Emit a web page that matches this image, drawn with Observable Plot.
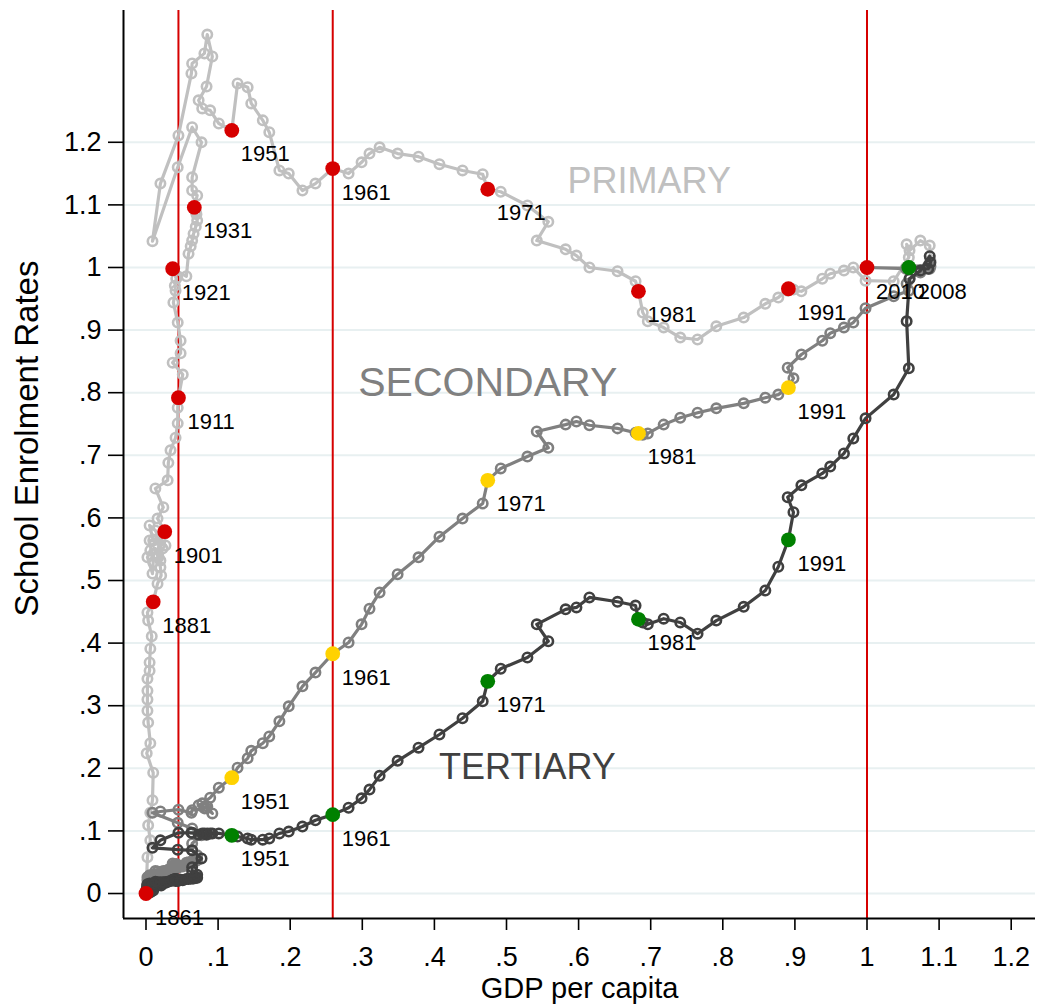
<!DOCTYPE html>
<html>
<head>
<meta charset="utf-8">
<script src="https://cdn.jsdelivr.net/npm/d3@7"></script>
<script src="https://cdn.jsdelivr.net/npm/@observablehq/plot@0.6"></script>
<style>
  body { margin: 0; background: #ffffff; }
  #chart svg { display: block; }
</style>
</head>
<body>
<div id="chart"></div>
<script>
// Yearly observations, 1861–2010: GDP per capita and school enrolment rates,
// both expressed relative to their 2010 level.
const years = d3.range(1861, 2011);

const gdp = [
  0, 0.002, 0.006, 0.003, 0.006, 0.009, 0.010, 0.001, 0.006, 0.003,
  0.002, 0.002, 0.002, 0.002, 0.005, 0.005, 0.006, 0.008, 0.003, 0.002,
  0.010, 0.016, 0.021, 0.020, 0.017, 0.013, 0.006, 0.002, 0.009, 0.010,
  0.005, 0.010, 0.005, 0.013, 0.020, 0.017, 0.020, 0.023, 0.027, 0.020,
  0.026, 0.016, 0.024, 0.013, 0.030, 0.031, 0.034, 0.041, 0.044, 0.044,
  0.045, 0.051, 0.037, 0.048, 0.048, 0.044, 0.038, 0.041, 0.040, 0.042,
  0.037, 0.056, 0.059, 0.062, 0.064, 0.066, 0.069, 0.071, 0.070, 0.069,
  0.067, 0.071, 0.064, 0.064, 0.077, 0.064, 0.044, 0.009, 0.020, 0.045,
  0.063, 0.064, 0.081, 0.085, 0.092, 0.084, 0.073, 0.078, 0.089, 0.101,
  0.119, 0.127, 0.141, 0.146, 0.162, 0.171, 0.185, 0.198, 0.217, 0.235,
  0.259, 0.281, 0.299, 0.310, 0.324, 0.349, 0.378, 0.407, 0.439, 0.467,
  0.474, 0.492, 0.529, 0.558, 0.542, 0.582, 0.597, 0.615, 0.654, 0.679,
  0.683, 0.689, 0.696, 0.718, 0.741, 0.765, 0.791, 0.829, 0.859, 0.877,
  0.891, 0.898, 0.890, 0.909, 0.938, 0.949, 0.968, 0.981, 0.998, 1.037,
  1.058, 1.055, 1.059, 1.074, 1.087, 1.088, 1.085, 1.058, 1.054, 1.000
];

const primary = [
  0, 0.058, 0.085, 0.109, 0.129, 0.149, 0.193, 0.224, 0.240, 0.273,
  0.292, 0.310, 0.324, 0.343, 0.356, 0.369, 0.391, 0.411, 0.436, 0.449,
  0.466, 0.495, 0.508, 0.521, 0.537, 0.551, 0.548, 0.537, 0.511, 0.529,
  0.564, 0.564, 0.588, 0.580, 0.564, 0.540, 0.532, 0.551, 0.556, 0.567,
  0.578, 0.599, 0.617, 0.647, 0.660, 0.688, 0.708, 0.728, 0.751, 0.776,
  0.792, 0.829, 0.848, 0.863, 0.883, 0.912, 0.944, 0.963, 0.971, 0.982,
  0.998, 0.986, 1.022, 1.034, 1.043, 1.054, 1.065, 1.075, 1.085, 1.089,
  1.096, 1.115, 1.123, 1.144, 1.200, 1.224, 1.160, 1.042, 1.134, 1.211,
  1.310, 1.326, 1.342, 1.372, 1.337, 1.289, 1.267, 1.254, 1.251, 1.230,
  1.219, 1.294, 1.288, 1.262, 1.235, 1.216, 1.155, 1.150, 1.123, 1.134,
  1.158, 1.150, 1.168, 1.182, 1.192, 1.182, 1.177, 1.165, 1.155, 1.149,
  1.125, 1.121, 1.099, 1.073, 1.043, 1.029, 1.019, 1.000, 0.994, 0.978,
  0.962, 0.928, 0.914, 0.904, 0.888, 0.885, 0.906, 0.920, 0.942, 0.952,
  0.966, 0.965, 0.963, 0.962, 0.982, 0.990, 0.995, 1.000, 0.979, 0.978,
  1.016, 1.037, 1.027, 1.043, 1.035, 1.011, 0.998, 1.000, 1.000, 1.000
];

const secondary = [
  0, 0.002, 0.003, 0.005, 0.005, 0.006, 0.008, 0.008, 0.010, 0.010,
  0.011, 0.013, 0.013, 0.014, 0.014, 0.016, 0.018, 0.018, 0.019, 0.021,
  0.022, 0.023, 0.023, 0.024, 0.025, 0.025, 0.026, 0.026, 0.027, 0.028,
  0.028, 0.029, 0.029, 0.030, 0.030, 0.031, 0.031, 0.032, 0.032, 0.033,
  0.034, 0.035, 0.036, 0.036, 0.037, 0.038, 0.039, 0.040, 0.041, 0.042,
  0.042, 0.043, 0.043, 0.044, 0.044, 0.045, 0.045, 0.046, 0.046, 0.047,
  0.048, 0.049, 0.050, 0.050, 0.051, 0.052, 0.052, 0.053, 0.054, 0.055,
  0.056, 0.061, 0.069, 0.080, 0.093, 0.104, 0.113, 0.129, 0.131, 0.134,
  0.129, 0.133, 0.136, 0.139, 0.128, 0.136, 0.141, 0.144, 0.153, 0.169,
  0.185, 0.201, 0.216, 0.228, 0.240, 0.251, 0.275, 0.299, 0.331, 0.353,
  0.383, 0.401, 0.430, 0.455, 0.481, 0.510, 0.537, 0.570, 0.599, 0.623,
  0.660, 0.679, 0.698, 0.712, 0.738, 0.749, 0.754, 0.748, 0.743, 0.736,
  0.735, 0.733, 0.735, 0.749, 0.760, 0.768, 0.775, 0.783, 0.792, 0.797,
  0.808, 0.823, 0.840, 0.861, 0.883, 0.895, 0.904, 0.912, 0.935, 0.954,
  0.963, 0.974, 0.982, 0.992, 0.998, 1.002, 1.003, 1.002, 0.998, 1.000
];

const tertiary = [
  0, 0.002, 0.002, 0.003, 0.003, 0.005, 0.005, 0.006, 0.006, 0.006,
  0.008, 0.008, 0.008, 0.010, 0.010, 0.010, 0.011, 0.011, 0.011, 0.013,
  0.013, 0.013, 0.013, 0.014, 0.014, 0.014, 0.014, 0.015, 0.015, 0.015,
  0.015, 0.016, 0.016, 0.016, 0.016, 0.016, 0.017, 0.017, 0.017, 0.018,
  0.018, 0.018, 0.018, 0.019, 0.019, 0.019, 0.020, 0.020, 0.020, 0.021,
  0.021, 0.021, 0.021, 0.022, 0.022, 0.022, 0.022, 0.023, 0.023, 0.023,
  0.022, 0.023, 0.023, 0.024, 0.024, 0.024, 0.025, 0.025, 0.026, 0.026,
  0.027, 0.030, 0.035, 0.042, 0.056, 0.069, 0.070, 0.073, 0.085, 0.097,
  0.097, 0.097, 0.096, 0.096, 0.096, 0.094, 0.094, 0.096, 0.096, 0.096,
  0.093, 0.091, 0.088, 0.086, 0.086, 0.088, 0.096, 0.099, 0.107, 0.117,
  0.126, 0.137, 0.152, 0.166, 0.188, 0.212, 0.233, 0.254, 0.280, 0.307,
  0.339, 0.359, 0.377, 0.403, 0.430, 0.454, 0.457, 0.473, 0.466, 0.460,
  0.438, 0.433, 0.430, 0.439, 0.433, 0.415, 0.436, 0.458, 0.484, 0.522,
  0.565, 0.609, 0.633, 0.652, 0.671, 0.682, 0.703, 0.727, 0.759, 0.797,
  0.839, 0.914, 0.982, 0.995, 1.018, 1.008, 0.998, 1.000, null, null
];

// Years singled out with a solid dot and a year label
const primaryMarked = [1861, 1881, 1901, 1911, 1921, 1931, 1951, 1961, 1971, 1981, 1991, 2010];
const secondaryMarked = [1951, 1961, 1971, 1981, 1991];
const tertiaryMarked = [1951, 1961, 1971, 1981, 1991, 2008];

// Vertical reference lines at the GDP level of these years
const referenceYears = [1911, 1961, 2010];

// Axis ticks and their labels
const xTicks = [0, 0.1, 0.2, 0.3, 0.4, 0.5, 0.6, 0.7, 0.8, 0.9, 1, 1.1, 1.2];
const xTickLabels = ["0", ".1", ".2", ".3", ".4", ".5", ".6", ".7", ".8", ".9", "1", "1.1", "1.2"];
const yTicks = [0, 0.1, 0.2, 0.3, 0.4, 0.5, 0.6, 0.7, 0.8, 0.9, 1, 1.1, 1.2];
const yTickLabels = ["0", ".1", ".2", ".3", ".4", ".5", ".6", ".7", ".8", ".9", "1", "1.1", "1.2"];

// ---------------------------------------------------------------------------

const rows = years.map((year, i) => ({
  year,
  gdp: gdp[i],
  primary: primary[i],
  secondary: secondary[i],
  tertiary: tertiary[i]
}));
const byYear = new Map(rows.map(d => [d.year, d]));

const xDomain = [-0.0312, 1.2337];
const yDomain = [-0.0399, 1.4105];

const xLabel = new Map(xTicks.map((t, i) => [t, xTickLabels[i]]));
const yLabel = new Map(yTicks.map((t, i) => [t, yTickLabels[i]]));

const levels = [
  {key: "primary",   line: "#c0c0c0", dot: "#d60000", marked: primaryMarked},
  {key: "secondary", line: "#808080", dot: "#ffd200", marked: secondaryMarked},
  {key: "tertiary",  line: "#404040", dot: "#008000", marked: tertiaryMarked}
];

const marks = [
  Plot.gridY(yTicks, {stroke: "#e8f0f1", strokeOpacity: 1, strokeWidth: 2}),
  Plot.ruleX(referenceYears.map(y => byYear.get(y).gdp), {stroke: "#d60000", strokeWidth: 2})
];

for (const s of levels) {
  const obs = rows.filter(d => d[s.key] != null);
  marks.push(
    Plot.line(obs, {x: "gdp", y: s.key, stroke: s.line, strokeWidth: 3.2, strokeLinejoin: "round"}),
    Plot.dot(obs, {x: "gdp", y: s.key, r: 4.7, stroke: s.line, strokeWidth: 2.6, fill: "none"})
  );
}

for (const s of levels) {
  const pts = s.marked.map(y => byYear.get(y));
  marks.push(
    Plot.dot(pts, {x: "gdp", y: s.key, r: 7.4, fill: s.dot, stroke: "none"}),
    Plot.text(pts, {
      x: "gdp", y: s.key, text: d => String(d.year),
      textAnchor: "start", lineAnchor: "middle", dx: 9, dy: 24,
      fontSize: 22, fill: "#000"
    })
  );
}

// Level names written across the plot area
marks.push(
  Plot.text(["PRIMARY"], {x: 0.698, y: 1.137, text: d => d, fontSize: 36, fill: "#c0c0c0", lineAnchor: "middle"}),
  Plot.text(["SECONDARY"], {x: 0.474, y: 0.815, text: d => d, fontSize: 41, fill: "#808080", lineAnchor: "middle"}),
  Plot.text(["TERTIARY"], {x: 0.529, y: 0.201, text: d => d, fontSize: 36, fill: "#404040", lineAnchor: "middle"})
);

// Axes: left and bottom lines, ticks, labels and titles
marks.push(
  Plot.ruleX([xDomain[0]], {stroke: "#000", strokeWidth: 2}),
  Plot.ruleY([yDomain[0]], {stroke: "#000", strokeWidth: 2}),
  Plot.axisX(xTicks, {
    tickSize: 12, tickPadding: 16, strokeWidth: 1.6, fontSize: 27,
    tickFormat: d => xLabel.get(d), label: null
  }),
  Plot.axisY(yTicks, {
    tickSize: 15, tickPadding: 7, strokeWidth: 1.6, fontSize: 27,
    tickFormat: d => yLabel.get(d), label: null
  }),
  Plot.text(["GDP per capita"], {
    frameAnchor: "bottom", text: d => d, dy: 70, lineAnchor: "middle", textAnchor: "middle", fontSize: 29
  }),
  Plot.text(["School Enrolment Rates"], {
    frameAnchor: "left", text: d => d, dx: -96, dy: -26, rotate: -90,
    lineAnchor: "middle", textAnchor: "middle", fontSize: 33
  })
);

const chart = Plot.plot({
  width: 1037,
  height: 1004,
  marginLeft: 123,
  marginRight: 2,
  marginTop: 10,
  marginBottom: 86,
  x: {domain: xDomain, axis: null},
  y: {domain: yDomain, axis: null},
  style: {
    fontFamily: "'Liberation Sans', Arial, Helvetica, sans-serif",
    background: "#ffffff",
    color: "#000"
  },
  marks
});

document.getElementById("chart").appendChild(chart);
</script>
</body>
</html>
